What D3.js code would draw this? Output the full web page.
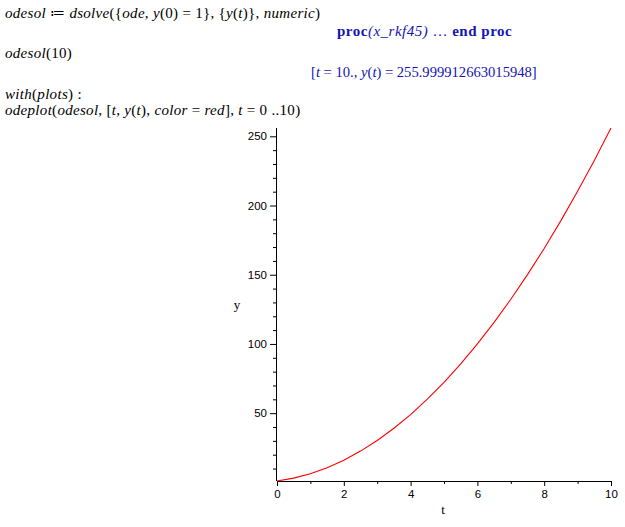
<!DOCTYPE html>
<html>
<head>
<meta charset="utf-8">
<script src="https://cdn.jsdelivr.net/npm/d3@7"></script>
<style>
  body { margin: 0; background: #fff; }
  svg { display: block; }
</style>
</head>
<body>
<svg id="chart" width="625" height="527"></svg>
<script>
// worksheet text lines (input in black, output in blue)
var inputLines = [
    {text: "odesol \u2254 dsolve({ode, y(0) = 1}, {y(t)}, numeric)", x: 5, y: 18},
    {text: "odesol(10)", x: 5, y: 58},
    {text: "with(plots) :", x: 5, y: 99},
    {text: "odeplot(odesol, [t, y(t), color = red], t = 0 ..10)", x: 5, y: 115}
];
var outputLine = "[t = 10., y(t) = 255.999912663015948]";

// numeric solution
var tVals = [0, 0.5, 1, 1.5, 2, 2.5, 3, 3.5, 4, 4.5, 5, 5.5, 6, 6.5, 7, 7.5, 8, 8.5, 9, 9.5, 10];
var yVals = [1, 3.1, 6.3, 10.6, 16, 22.6, 30.3, 39.1, 49, 60.1, 72.3, 85.6, 100, 115.6, 132.3, 150.1, 169, 189.1, 210.3, 232.6, 256];

var xTicks = [0, 2, 4, 6, 8, 10];
var xMinor = [1, 3, 5, 7, 9];
var yTicks = [50, 100, 150, 200, 250];
var yMinor = d3.range(10, 251, 10).filter(function(v){ return v % 50 != 0; });

var svg = d3.select('#chart');
var serif = "'Liberation Serif', 'Times New Roman', serif";
var blue = "#1414b4";

// letters italic, the rest upright, like maple's 2d math
function mathText(sel, str){
    var parts = str.match(/[A-Za-z_]+|[^A-Za-z_]+/g);
    parts.forEach(function(p){
        sel.append('tspan')
            .attr('font-style', /[A-Za-z]/.test(p) ? 'italic' : 'normal')
            .text(p);
    });
}

inputLines.forEach(function(l){
    var t = svg.append('text')
        .attr('x', l.x).attr('y', l.y)
        .attr('font-family', serif)
        .attr('font-size', 15)
        .attr('letter-spacing', 0.3)
        .attr('fill', '#000');
    mathText(t, l.text);
});

// proc(x_rkf45) ... end proc
var p = svg.append('text')
    .attr('x', 337).attr('y', 36)
    .attr('font-family', serif)
    .attr('font-size', 15)
    .attr('letter-spacing', 0.5)
    .attr('fill', blue);
p.append('tspan').attr('font-weight', 'bold').text('proc');
p.append('tspan').attr('font-style', 'italic').text('(x_rkf45)');
p.append('tspan').text('  \u2026  ');
p.append('tspan').attr('font-weight', 'bold').text('end proc');

var o = svg.append('text')
    .attr('x', 311).attr('y', 77)
    .attr('font-family', serif)
    .attr('font-size', 14.6)
    .attr('fill', blue);
mathText(o, outputLine);

// plot
var x = d3.scaleLinear().domain([0, 10]).range([277, 611]);
var y = d3.scaleLinear().domain([1, 256]).range([481, 128]);

var g = svg.append('g');

g.append('g')
    .attr('transform', 'translate(0,' + y(1) + ')')
    .call(d3.axisBottom(x).tickValues(xTicks).tickSize(5).tickPadding(4).tickFormat(d3.format('d')))
    .call(function(a){ a.select('.domain').attr('d', 'M' + x(0) + ',0.5H' + x(10)); });

g.append('g')
    .attr('transform', 'translate(0,' + y(1) + ')')
    .call(d3.axisBottom(x).tickValues(xMinor).tickSize(3).tickFormat(''))
    .call(function(a){ a.select('.domain').remove(); });

g.append('g')
    .attr('transform', 'translate(' + x(0) + ',0)')
    .call(d3.axisLeft(y).tickValues(yTicks).tickSize(7).tickPadding(3))
    .call(function(a){ a.select('.domain').attr('d', 'M-0.5,' + y(256) + 'V' + y(1)); });

g.append('g')
    .attr('transform', 'translate(' + x(0) + ',0)')
    .call(d3.axisLeft(y).tickValues(yMinor).tickSize(4).tickFormat(''))
    .call(function(a){ a.select('.domain').remove(); });

g.selectAll('.tick text')
    .attr('font-family', "'Liberation Sans', Arial, sans-serif")
    .attr('font-size', 11.5)
    .attr('fill', '#000');
g.selectAll('path.domain, .tick line').attr('stroke', '#000');

var line = d3.line()
    .x(function(d, i){ return x(tVals[i]); })
    .y(function(d){ return y(d); });

g.append('path')
    .datum(yVals)
    .attr('d', line)
    .attr('fill', 'none')
    .attr('stroke', '#f00')
    .attr('stroke-width', 1.1);

svg.append('text')
    .attr('x', 237).attr('y', 309)
    .attr('text-anchor', 'middle')
    .attr('font-family', serif)
    .attr('font-size', 13)
    .text('y');

svg.append('text')
    .attr('x', 443).attr('y', 514)
    .attr('text-anchor', 'middle')
    .attr('font-family', serif)
    .attr('font-size', 13)
    .text('t');
</script>
</body>
</html>
